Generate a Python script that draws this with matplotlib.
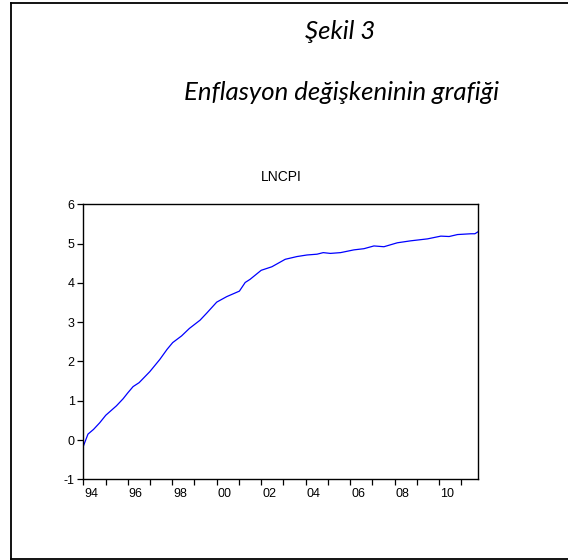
import matplotlib
matplotlib.use("Agg")
import matplotlib.pyplot as plt
from matplotlib.transforms import ScaledTranslation
from matplotlib.lines import Line2D

# Data (decimal year, LNCPI)
dates = [1994.00, 1994.21, 1994.46, 1994.74, 1995.01, 1995.49, 1995.79, 1996.00,
         1996.24, 1996.51, 1996.99, 1997.44, 1997.77, 1998.02, 1998.42, 1998.77,
         1999.25, 1999.55, 2000.00, 2000.45, 2001.02, 2001.28, 2001.50, 2002.00,
         2002.48, 2003.08, 2003.61, 2004.06, 2004.51, 2004.79, 2005.11, 2005.57,
         2006.17, 2006.62, 2007.07, 2007.52, 2008.12, 2008.72, 2009.48, 2010.08,
         2010.45, 2010.83, 2011.43, 2011.61, 2011.75]
lncpi = [-0.16, 0.15, 0.27, 0.44, 0.63, 0.87, 1.05, 1.20,
         1.36, 1.46, 1.74, 2.05, 2.31, 2.48, 2.65, 2.84,
         3.05, 3.23, 3.51, 3.65, 3.79, 4.01, 4.09, 4.32,
         4.41, 4.60, 4.67, 4.71, 4.73, 4.77, 4.75, 4.77,
         4.84, 4.87, 4.94, 4.92, 5.02, 5.07, 5.12, 5.19,
         5.18, 5.23, 5.25, 5.25, 5.30]
years = list(range(1994, 2012))
year_labels = [f"{y % 100:02d}" if y % 2 == 0 else "" for y in years]
y_ticks = [-1, 0, 1, 2, 3, 4, 5, 6]

W, H = 568, 560
fig = plt.figure(figsize=(W / 100, H / 100), dpi=100)

# outer frame
def fx(px):
    return px / W
def fy(py):
    return 1 - py / H
frame_kw = dict(color="black", lw=1.3, transform=fig.transFigure)
fig.add_artist(Line2D([fx(10.5), fx(10.5)], [fy(2.5), fy(558.5)], **frame_kw))
fig.add_artist(Line2D([fx(10.5), 1.0], [fy(2.5), fy(2.5)], **frame_kw))
fig.add_artist(Line2D([fx(10.5), 1.0], [fy(558.5), fy(558.5)], **frame_kw))

# titles
fig.text(fx(340), fy(39), "Şekil 3", ha="center", va="baseline",
         fontsize=18.5, style="italic", family=["Lato", "DejaVu Sans"])
fig.text(fx(341), fy(100), "Enflasyon değişkeninin grafiği", ha="center",
         va="baseline", fontsize=18.5, style="italic", family=["Lato", "DejaVu Sans"])

left, right, top, bottom = 83.3, 478.0, 204.3, 479.3
ax = fig.add_axes([fx(left), fy(bottom), fx(right) - fx(left), (bottom - top) / H])
ax.plot(dates, lncpi, color="#0000ff", lw=0.9)
ax.set_xlim(1994.0, 2011.75)
ax.set_ylim(-1, 6)

ax.set_xticks(years)
ax.set_xticklabels(year_labels)
ax.set_yticks(y_ticks)
ax.set_yticklabels([str(v) for v in y_ticks])

for s in ax.spines.values():
    s.set_linewidth(1.0)
ax.tick_params(axis="both", direction="out", length=4.2, width=0.9,
               labelsize=9, pad=2)
for t in ax.get_xticklabels() + ax.get_yticklabels():
    t.set_family(["Liberation Sans", "DejaVu Sans"])
offset = ScaledTranslation(8 / 100, 0, fig.dpi_scale_trans)
for t in ax.get_xticklabels():
    t.set_transform(t.get_transform() + offset)

fig.text(fx(281), fy(181), "LNCPI", ha="center", va="baseline", fontsize=10,
         family=["Liberation Sans", "DejaVu Sans"])

fig.savefig("out.png", dpi=100)
